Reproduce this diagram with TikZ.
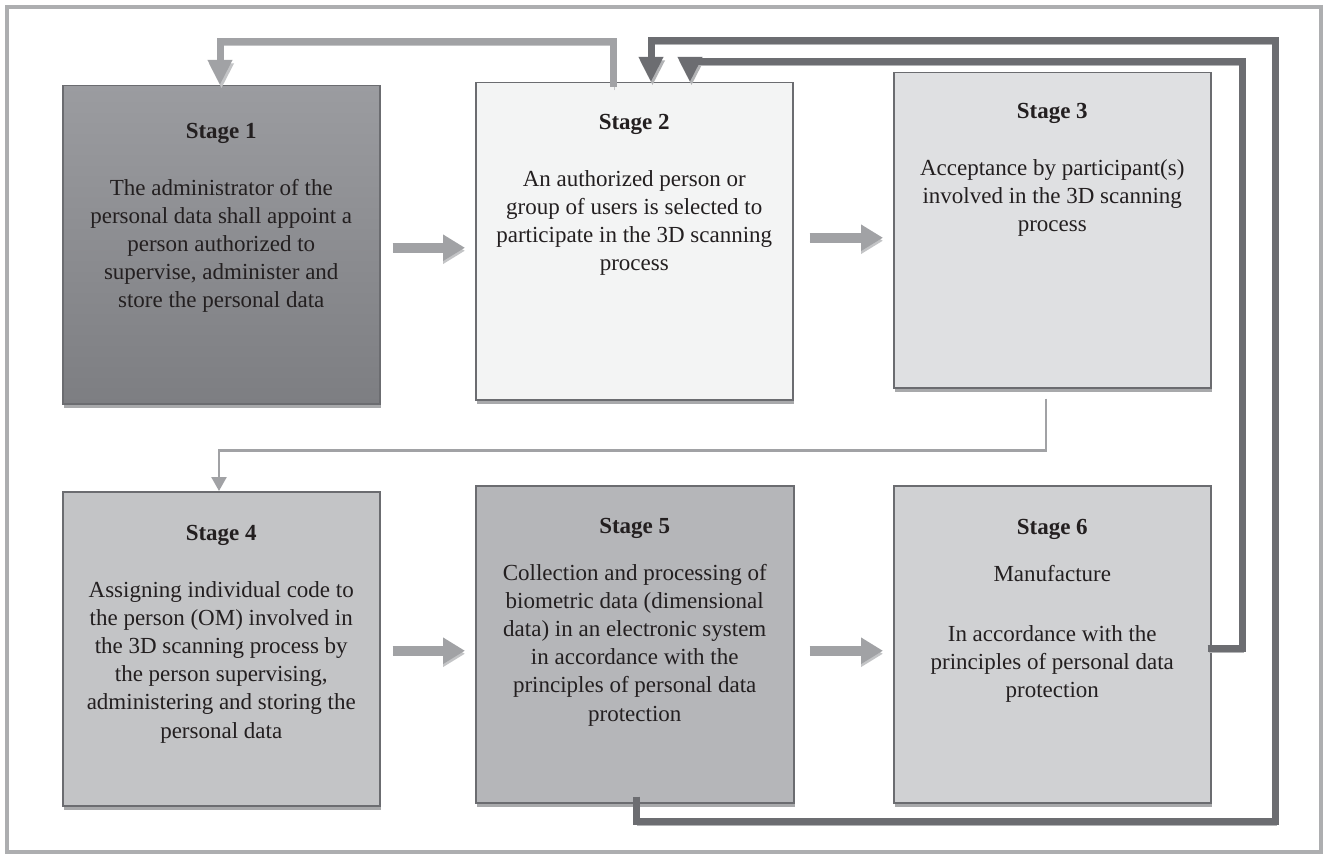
\documentclass[tikz,border=0pt]{standalone}
\usepackage{fontspec}
\setmainfont{Liberation Serif}
\usetikzlibrary{arrows.meta,calc}
\definecolor{framec}{HTML}{ADAEB0}
\definecolor{bordc}{HTML}{6B6C70}
\definecolor{shadc}{HTML}{A8A9AB}
\definecolor{darkln}{HTML}{6C6D71}
\definecolor{darksh}{HTML}{B2B3B5}
\definecolor{lightln}{HTML}{A1A2A5}
\definecolor{lightsh}{HTML}{C3C4C6}
\definecolor{txtc}{HTML}{231F20}
\definecolor{sonetop}{HTML}{9B9CA0}
\definecolor{sonebot}{HTML}{7D7E82}
\definecolor{stwo}{HTML}{F3F4F4}
\definecolor{sthree}{HTML}{DFE0E2}
\definecolor{sfour}{HTML}{C3C4C6}
\definecolor{sfive}{HTML}{B5B6B9}
\definecolor{ssix}{HTML}{D0D1D3}
\tikzset{
  stagebox/.style={draw=bordc, line width=1.5pt, anchor=north west, inner sep=0pt,
    preaction={fill=shadc, transform canvas={shift={(1pt,-4pt)}}}},
  stagetext/.style={anchor=north, inner sep=0pt, align=center, text=txtc,
    font=\fontsize{23}{28.2}\selectfont},
  darkarrow/.style={draw=darkln, line width=7pt, line join=miter,
    preaction={draw=darksh, transform canvas={shift={(1.5pt,-3.5pt)}}},
    -{Triangle[width=23pt,length=25pt]}},
  lightarrow/.style={draw=lightln, line width=7pt, line join=miter,
    preaction={draw=lightsh, transform canvas={shift={(1.5pt,-3.5pt)}}},
    -{Triangle[width=23pt,length=25pt]}},
  fatarrow/.style={draw=lightln, line width=10pt,
    preaction={draw=lightsh, transform canvas={shift={(0pt,-3pt)}}},
    -{Triangle[width=25pt,length=22pt]}},
  thinarrow/.style={draw=lightln, line width=2.5pt,
    -{Triangle[width=15pt,length=14pt]}},
}
\begin{document}
\begin{tikzpicture}[x=1pt,y=-1pt]
\useasboundingbox (0,0) rectangle (1326,856);
\fill[white] (0,0) rectangle (1326,856);
\draw[framec, line width=4pt] (7,7) rectangle (1321,852);

% boxes
\node[stagebox, top color=sonetop, bottom color=sonebot, minimum width=317pt, minimum height=318pt] (s1) at (62,85) {};
\node[stagebox, fill=stwo, minimum width=317pt, minimum height=317pt] (s2) at (475,82) {};
\node[stagebox, fill=sthree, minimum width=317pt, minimum height=315pt] (s3) at (893,72) {};
\node[stagebox, fill=sfour, minimum width=317pt, minimum height=314pt] (s4) at (62,491) {};
\node[stagebox, fill=sfive, minimum width=318pt, minimum height=317pt] (s5) at (475,485) {};
\node[stagebox, fill=ssix, minimum width=317pt, minimum height=317pt] (s6) at (893,485) {};

% texts
\node[stagetext] (t1) at ($(s1.north)+(0,38.5)$) {\textbf{Stage 1}\\[28pt]The administrator of the\\personal data shall appoint a\\person authorized to\\supervise, administer and\\store the personal data};
\node[stagetext] (t2) at ($(s2.north)+(0,32.5)$) {\textbf{Stage 2}\\[28pt]An authorized person or\\group of users is selected to\\participate in the 3D scanning\\process};
\node[stagetext] (t3) at ($(s3.north)+(0,31.5)$) {\textbf{Stage 3}\\[28pt]Acceptance by participant(s)\\involved in the 3D scanning\\process};
\node[stagetext] (t4) at ($(s4.north)+(0,34.5)$) {\textbf{Stage 4}\\[28pt]Assigning individual code to\\the person (OM) involved in\\the 3D scanning process by\\the person supervising,\\administering and storing the\\personal data};
\node[stagetext] (t5) at ($(s5.north)+(0,33.5)$) {\textbf{Stage 5}\\[18pt]Collection and processing of\\biometric data (dimensional\\data) in an electronic system\\in accordance with the\\principles of personal data\\protection};
\node[stagetext] (t6) at ($(s6.north)+(0,34.5)$) {\textbf{Stage 6}\\[18pt]Manufacture\\[32pt]In accordance with the\\principles of personal data\\protection};

% horizontal fat arrows
\coordinate (a12s) at ($(s1.east)+(12,3)$);
\coordinate (a12e) at ($(s2.west)+(-10,0)$);
\draw[fatarrow] (a12s) -- (a12s -| a12e);
\coordinate (a23s) at ($(s2.east)+(16,-3.5)$);
\coordinate (a23e) at ($(s3.west)+(-10,0)$);
\draw[fatarrow] (a23s) -- (a23s -| a23e);
\coordinate (a45s) at ($(s4.east)+(12,2)$);
\coordinate (a45e) at ($(s5.west)+(-10,0)$);
\draw[fatarrow] (a45s) -- (a45s -| a45e);
\coordinate (a56s) at ($(s5.east)+(15,6.5)$);
\coordinate (a56e) at ($(s6.west)+(-10,0)$);
\draw[fatarrow] (a56s) -- (a56s -| a56e);

% stage 3 -> stage 4 thin connector
\draw[thinarrow] ($(s3.south west)+(153,10)$) -- ++(0,52) -| ($(s4.north west)+(157,0)$);

% stage 2 -> stage 1 (light, over the top)
\draw[lightarrow] ($(s2.north west)+(138,5)$) -- ++(0,-45) -| ($(s1.north west)+(158,0)$);

% stage 5 -> stage 2 (outer dark loop)
\coordinate (outerc) at (1275,41);
\draw[darkarrow] ($(s5.south west)+(161,-7)$) -- ++(0,25) -| (outerc) -| ($(s2.north west)+(176,0)$);

% stage 6 -> stage 2 (inner dark loop)
\coordinate (innerc) at (1242,62);
\draw[darkarrow] ($(s6.east)+(-4,4)$) -| (innerc) -| ($(s2.north west)+(215,0)$);
\end{tikzpicture}
\end{document}
